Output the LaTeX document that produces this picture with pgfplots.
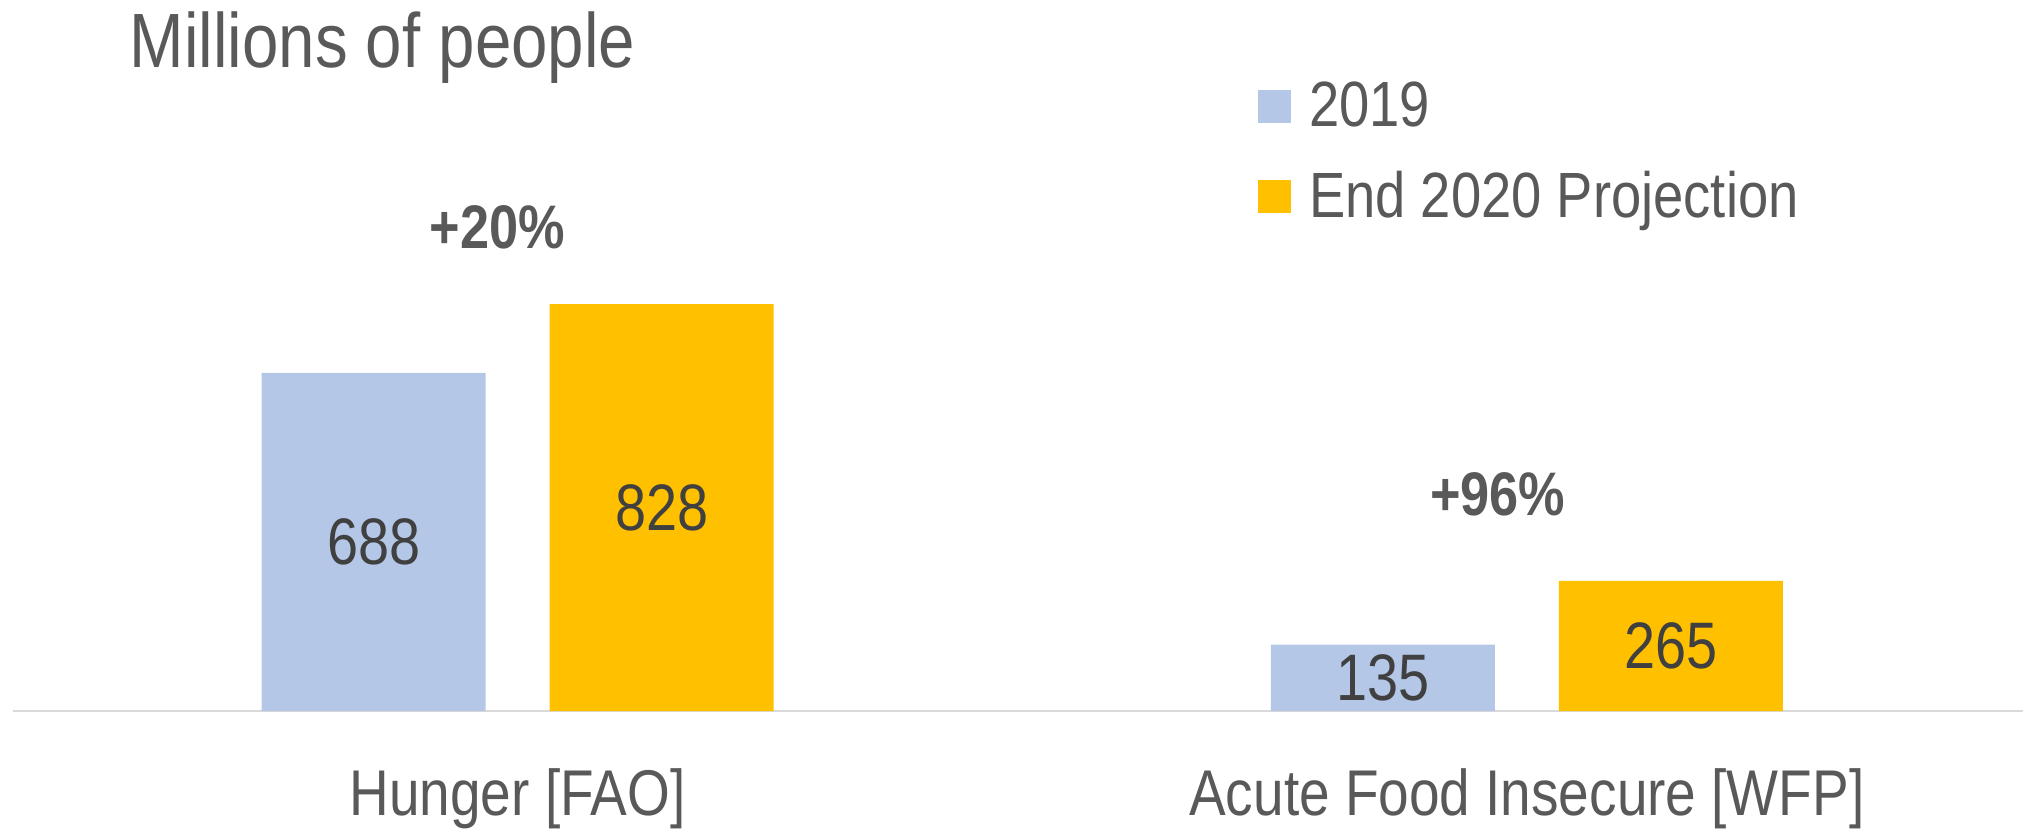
\documentclass[border=0pt]{standalone}
\usepackage{pgfplots}
\pgfplotsset{compat=1.18}
\usepackage{pgfplotstable}
\usepackage{fontspec}
\setmainfont[FakeStretch=0.85]{Liberation Sans}
\definecolor{textgray}{HTML}{595959}
\definecolor{numgray}{HTML}{404040}
\definecolor{barA}{HTML}{B4C7E7}
\definecolor{barB}{HTML}{FFC000}
\definecolor{axgray}{HTML}{D9D9D9}
\newcommand{\fs}[1]{\fontsize{#1}{#1}\selectfont}
\pgfplotstableread{
x y
0 688
1 135
}\tabA
\pgfplotstableread{
x y
0 828
1 265
}\tabB
\begin{document}
\begin{tikzpicture}[x=1mm,y=1mm]
\useasboundingbox (0,0) rectangle (202.3,82.8);
\begin{axis}[
  at={(1.3mm,11.7mm)}, anchor=south west,
  scale only axis, width=201.0mm, height=49.15mm,
  xmin=-0.5, xmax=1.4916, ymin=0, ymax=1000,
  clip=false,
  ybar=6.4mm, bar width=22.4mm,
  axis x line=bottom, axis y line=none,
  x axis line style={-, draw=axgray, line width=0.6pt},
  xtick={0,1}, xticklabels={Hunger [FAO], Acute Food Insecure [WFP]},
  major tick length=0pt,
  xticklabel style={font=\fs{18.4}, text=textgray, anchor=base, yshift=-10.4mm},
  /pgf/number format/assume math mode=true,
  point meta=y,
  nodes near coords={\pgfmathprintnumber{\pgfplotspointmeta}},
  visualization depends on=y \as \rawy,
  every node near coord/.append style={font=\fs{18.7}, text=numgray, anchor=center,
     shift={(axis direction cs:0,-\rawy/2)}},
  legend style={at={(axis description cs:0.6194,1.294)}, anchor=north west,
     draw=none, fill=none, inner sep=0pt, outer sep=0pt, row sep=2.5mm,
     font=\fs{18.2}, text=textgray,
     /tikz/every odd column/.append style={column sep=1.1mm}},
  legend cell align=left,
  legend image code/.code={\fill[#1] (0mm,-1.65mm) rectangle (3.3mm,1.65mm);},
]
\addplot[fill=barA, draw=none] table[x=x,y=y] {\tabA};
\addplot[fill=barB, draw=none] table[x=x,y=y] {\tabB};
\legend{2019, End 2020 Projection}
\node[anchor=base, font=\bfseries\fs{17.5}, text=textgray] at (axis cs:-0.02,942) {+20\%};
\node[anchor=base, font=\bfseries\fs{17.5}, text=textgray] at (axis cs:0.971,397) {+96\%};
\end{axis}
\node[anchor=base west, inner sep=0pt, font=\fs{21.9}, text=textgray] at (12.9,76.0) {Millions of people};
\end{tikzpicture}
\end{document}
